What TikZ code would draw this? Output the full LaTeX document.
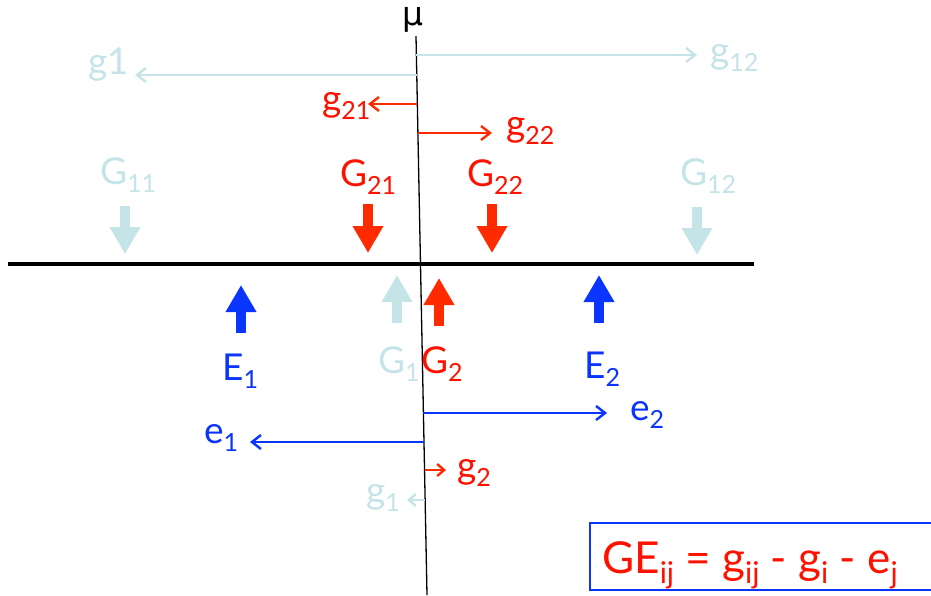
\documentclass[tikz,border=0pt]{standalone}
\usepackage{fontspec}
\setmainfont{Lato}
\newfontfamily\mufont{DejaVu Sans}
\usetikzlibrary{arrows.meta,calc}
\definecolor{lb}{HTML}{C4E4E8}
\definecolor{rd}{HTML}{FF2A00}
\definecolor{rt}{HTML}{FF1100}
\definecolor{bl}{HTML}{0A35FF}
\newcommand\sbs[1]{\raisebox{-0.45ex}{\fontsize{25}{25}\selectfont #1}}
\newcommand\sbb[1]{\raisebox{-0.45ex}{\fontsize{30}{30}\selectfont #1}}
\begin{document}
\begin{tikzpicture}[x=1pt,y=-1pt,
  lbl/.style={font=\fontsize{37}{37}\selectfont, inner sep=0pt, anchor=base west},
  thinarr/.style={line width=2.4pt, -{Straight Barb[length=9pt,width=14pt]}},
  bigarr/.style={line width=10pt, -{Triangle[length=27pt,width=29pt]}}]
\useasboundingbox (0,0) rectangle (931,595);
\clip (0,0) rectangle (931,595);

% axes
\coordinate (mtop) at (416,36);
\coordinate (mbot) at (427,595);
\node[font=\mufont\fontsize{33}{33}\selectfont, inner sep=0pt] (mu) at (413,20) {μ};
\draw[line width=1.3pt] (mtop) -- (mbot);
\coordinate (hl) at (8,264);
\coordinate (hr) at (754,264);
\draw[line width=4pt] (hl) -- (hr);

% points on mu axis
\coordinate (p55)  at ($(mtop)!0.034!(mbot)$);
\coordinate (p75)  at ($(mtop)!0.0698!(mbot)$);
\coordinate (p104) at ($(mtop)!0.1216!(mbot)$);
\coordinate (p133) at ($(mtop)!0.1735!(mbot)$);
\coordinate (p413) at ($(mtop)!0.6744!(mbot)$);
\coordinate (p442) at ($(mtop)!0.7263!(mbot)$);
\coordinate (p470) at ($(mtop)!0.7764!(mbot)$);
\coordinate (p500) at ($(mtop)!0.830!(mbot)$);

% top labels
\node[lbl, text=lb] (g1) at (88,74) {g1};
\node[lbl, text=lb] (g12) at (710,63) {g\sbs{12}};
\node[lbl, text=rt] (g21) at (322,111) {g\sbs{21}};
\node[lbl, text=rt] (g22) at (506,136) {g\sbs{22}};

\coordinate (e12) at (697,55);
\coordinate (e1) at (135,75);
\coordinate (e21) at (368,104);
\coordinate (e22) at (492,133);
\draw[thinarr, lb] (p55) -- (p55 -| e12);
\draw[thinarr, lb] (p75) -- (p75 -| e1);
\draw[thinarr, rd] (p104) -- (p104 -| e21);
\draw[thinarr, rd] (p133) -- (p133 -| e22);

% G labels above
\node[lbl, text=lb] (G11) at (100,184) {G\sbs{11}};
\node[lbl, text=rt] (G21) at (340,186) {G\sbs{21}};
\node[lbl, text=rt] (G22) at (467,186) {G\sbs{22}};
\node[lbl, text=lb] (G12) at (680,185) {G\sbs{12}};

\coordinate (a11s) at (125,206); \coordinate (a11e) at (125,254);
\coordinate (a21s) at (368,204); \coordinate (a21e) at (368,253);
\coordinate (a22s) at (492,204); \coordinate (a22e) at (492,253);
\coordinate (a12s) at (697,207); \coordinate (a12e) at (697,255);
\draw[bigarr, lb] (a11s) -- (a11e);
\draw[bigarr, rd] (a21s) -- (a21e);
\draw[bigarr, rd] (a22s) -- (a22e);
\draw[bigarr, lb] (a12s) -- (a12e);

% up arrows below
\coordinate (b1s) at (241,333); \coordinate (b1e) at (241,285);
\coordinate (bg1s) at (397,323); \coordinate (bg1e) at (397,275);
\coordinate (bg2s) at (439,326); \coordinate (bg2e) at (439,278);
\coordinate (b2s) at (599,323); \coordinate (b2e) at (599,275);
\draw[bigarr, bl] (b1s) -- (b1e);
\draw[bigarr, lb] (bg1s) -- (bg1e);
\draw[bigarr, rd] (bg2s) -- (bg2e);
\draw[bigarr, bl] (b2s) -- (b2e);

\node[lbl, text=bl] (E1) at (222,380) {E\sbs{1}};
\node[lbl, text=lb] (G1) at (378,373) {G\sbs{1}};
\node[lbl, text=rt] (G2) at (421,373) {G\sbs{2}};
\node[lbl, text=bl] (E2) at (584,378) {E\sbs{2}};

% bottom arrows
\node[lbl, text=bl] (le2) at (630,420) {e\sbs{2}};
\node[lbl, text=bl] (le1) at (204,443) {e\sbs{1}};
\node[lbl, text=rt] (lg2) at (457,478) {g\sbs{2}};
\node[lbl, text=lb] (lg1) at (366,503) {g\sbs{1}};

\coordinate (f2) at (607,413);
\coordinate (f1) at (250,442);
\coordinate (fg2) at (446,470);
\coordinate (fg1) at (407,500);
\draw[thinarr, bl] (p413) -- (p413 -| f2);
\draw[thinarr, bl] (p442) -- (p442 -| f1);
\draw[thinarr, rd, -{Straight Barb[length=7pt,width=12pt]}] (p470) -- (p470 -| fg2);
\draw[thinarr, lb, -{Straight Barb[length=7pt,width=12pt]}] (p500) -- (p500 -| fg1);

% formula box
\draw[bl, line width=1.5pt] (590,523) rectangle (960,590);
\node[font=\fontsize{44}{44}\selectfont, inner sep=0pt, anchor=base west, text=rt] (ge) at (602,573)
  {GE\sbb{ij} = g\sbb{ij} - g\sbb{i} - e\sbb{j}};
\end{tikzpicture}
\end{document}
